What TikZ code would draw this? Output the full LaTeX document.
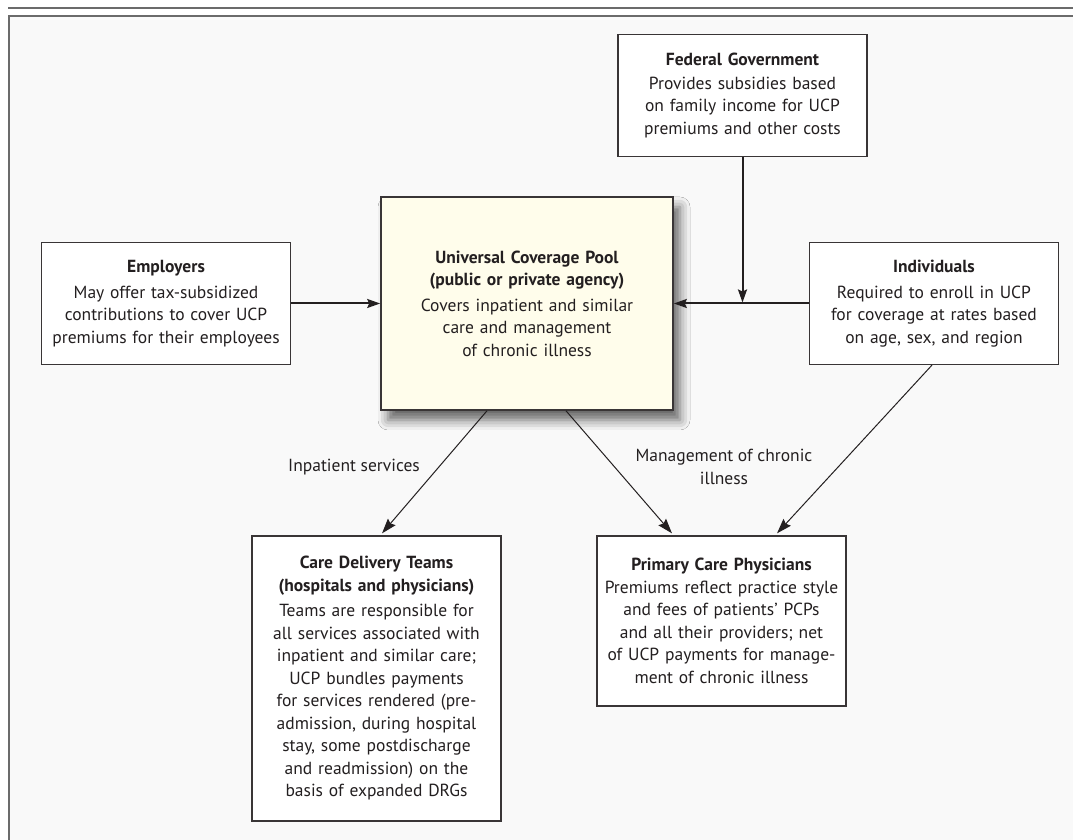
\documentclass[tikz,border=0pt]{standalone}
\usepackage{fontspec}
\setmainfont{PT Sans}
\usetikzlibrary{
	positioning,
	arrows.meta,
	shadows.blur
}
\definecolor{panel}{HTML}{F9F9F9}
\definecolor{rule}{HTML}{6B6B6B}
\definecolor{ink}{HTML}{231F20}
\definecolor{poolfill}{HTML}{FFFDEB}

\begin{document}
\begin{tikzpicture}[
	x=1pt, y=1pt,
	font=\fontsize{17.5}{22.5}\selectfont,
	text=ink,
	node distance =0pt,
	party/.style = {
		rectangle,
		draw=ink!90,
		fill=white,
		line width=1.3pt,
		inner sep=0pt,
		text width=249pt, align=center,
		minimum height=122pt
	},
	flow/.style = {
		draw=ink,
		line width=2pt,
		-{Stealth[length=13pt,width=9pt,inset=2pt]}
	},
	feed/.style = {
		draw=ink,
		line width=1pt,
		-{Stealth[length=15pt,width=10pt,inset=2pt]}
	},
	tag/.style = {
		align=center,
		inner sep=0pt
	},
]
	% page frame
	\useasboundingbox (0,0) rectangle (1073,840);
	\fill[panel] (9,0) rectangle (1073,824);
	\draw[rule, line width=2pt] (8,832) -- (1073,832);
	\draw[rule, line width=2pt] (1073,824) -- (9,824) -- (9,0);

	\node (pool) [party, fill=poolfill, text width=292pt, minimum height=213pt, line width=1.6pt,
		blur shadow={shadow xshift=7pt, shadow yshift=-10pt, shadow blur radius=10pt, shadow opacity=60}]
		at (527,536.5)
		{\textbf{Universal Coverage Pool}\\ \textbf{(public or private agency)}\\[3pt]
		 Covers inpatient and similar\\ care and management\\ of chronic illness};

	\node (employers) [party, left=89pt of pool]
		{\textbf{Employers}\\[3pt] May offer tax-subsidized\\ contributions to cover UCP\\ premiums for their employees};
	\node (individuals) [party, right=135pt of pool]
		{\textbf{Individuals}\\[3pt] Required to enroll in UCP\\ for coverage at rates based\\ on age, sex, and region};
	\node (federal) [party] at (742.5,744.5)
		{\textbf{Federal Government}\\[1pt] Provides subsidies based\\ on family income for UCP\\ premiums and other costs};

	\node (care) [party, minimum height=285pt] at (376.5,161.5)
		{\textbf{Care Delivery Teams}\\ \textbf{(hospitals and physicians)}\\[3pt]
		 Teams are responsible for\\ all services associated with\\ inpatient and similar care;\\
		 UCP bundles payments\\ for services rendered (pre-\\ admission, during hospital\\
		 stay, some postdischarge\\ and readmission) on the\\ basis of expanded DRGs};
	\node (pcp) [party, minimum height=170pt] at (721.5,219)
		{\textbf{Primary Care Physicians}\\ Premiums reflect practice style\\ and fees of patients' PCPs\\
		 and all their providers; net\\ of UCP payments for manage-\\ ment of chronic illness};

	% payments into the pool
	\draw[flow] (employers.east) -- (employers.east -| pool.west);
	\draw[flow] (individuals.west) -- (individuals.west -| pool.east);
	\draw[flow] (federal.south) -- ([yshift=1pt]federal.south |- individuals.west);

	% payments out of the pool
	\draw[feed] ([xshift=-40pt]pool.south) -- ([xshift=5.5pt,yshift=2pt]care.north);
	\draw[feed] ([xshift=39pt]pool.south) -- ([xshift=-49.5pt,yshift=2pt]pcp.north);
	\draw[feed] ([xshift=-2pt]individuals.south) -- ([xshift=55.5pt,yshift=2pt]pcp.north);

	\node (inpatient) [tag] at (354,373) {Inpatient services};
	\node (chronic) [tag] at (724,373) {Management of chronic\\ illness};
\end{tikzpicture}
\end{document}
